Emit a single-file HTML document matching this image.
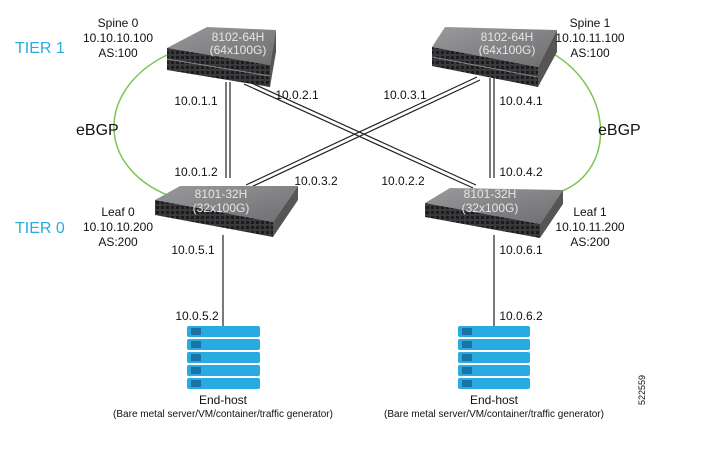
<!DOCTYPE html>
<html><head><meta charset="utf-8"><style>
html,body{margin:0;padding:0;background:#fff;}
svg text{font-family:"Liberation Sans",sans-serif;}
</style></head><body>
<svg width="720" height="462" viewBox="0 0 720 462" xmlns="http://www.w3.org/2000/svg">
<defs>
<linearGradient id="top" x1="0" y1="0" x2="1" y2="1"><stop offset="0" stop-color="#9a9a9c"/><stop offset="1" stop-color="#6e6e70"/></linearGradient>
<pattern id="ports" width="5" height="5" patternUnits="userSpaceOnUse"><rect width="5" height="5" fill="#3a3a3c"/><rect x="1" y="1" width="3" height="3" fill="#1c1c1e"/></pattern>
</defs>
<!-- green arcs -->
<path d="M167,55 C95,90 95,170 175,198" fill="none" stroke="#7cc552" stroke-width="1.5"/>
<path d="M552,53 C615,90 615,170 562,191" fill="none" stroke="#7cc552" stroke-width="1.5"/>
<!-- links -->
<g stroke="#222" stroke-width="1.2" fill="none">
<line x1="226" y1="82" x2="226" y2="178"/><line x1="230" y1="82" x2="230" y2="178"/>
<line x1="490" y1="78" x2="490" y2="178"/><line x1="494" y1="78" x2="494" y2="178"/>
<line x1="244" y1="84" x2="473" y2="188"/><line x1="247" y1="81" x2="476" y2="185"/>
<line x1="477" y1="77" x2="246" y2="185"/><line x1="480" y1="80" x2="249" y2="188"/>
<line x1="223" y1="235" x2="223" y2="326"/>
<line x1="494" y1="235" x2="494" y2="326"/>
</g>
<!-- spine0 -->
<polygon points="167,48 207,27 276,30 270,65" fill="url(#top)"/>
<polygon points="167,48 270,65 270,87 167,70" fill="url(#ports)"/>
<polygon points="270,65 276,30 276,52 270,87" fill="#555"/>
<line x1="167" y1="59" x2="270" y2="76" stroke="#888" stroke-width="1"/>
<text x="238" y="41" font-size="12" fill="#e6e6e6" text-anchor="middle">8102-64H</text>
<text x="238" y="54" font-size="12" fill="#e6e6e6" text-anchor="middle">(64x100G)</text>
<!-- spine1 -->
<polygon points="432,47 445,27 557,30 538,67" fill="url(#top)"/>
<polygon points="432,47 538,67 538,87 432,66" fill="url(#ports)"/>
<polygon points="538,67 557,30 557,52 538,87" fill="#555"/>
<line x1="432" y1="57" x2="538" y2="77" stroke="#888" stroke-width="1"/>
<text x="507" y="41" font-size="12" fill="#e6e6e6" text-anchor="middle">8102-64H</text>
<text x="507" y="54" font-size="12" fill="#e6e6e6" text-anchor="middle">(64x100G)</text>
<!-- leaf0 -->
<polygon points="155,200 180,186 298,186 273,222" fill="url(#top)"/>
<polygon points="155,200 273,222 273,237 155,215" fill="url(#ports)"/>
<polygon points="273,222 298,186 298,200 273,237" fill="#555"/>
<text x="221" y="198" font-size="12" fill="#e6e6e6" text-anchor="middle">8101-32H</text>
<text x="221" y="212" font-size="12" fill="#e6e6e6" text-anchor="middle">(32x100G)</text>
<!-- leaf1 -->
<polygon points="425,203 450,188 563,190 540,224" fill="url(#top)"/>
<polygon points="425,203 540,224 540,238 425,217" fill="url(#ports)"/>
<polygon points="540,224 563,190 563,204 540,238" fill="#555"/>
<text x="490" y="198" font-size="12" fill="#e6e6e6" text-anchor="middle">8101-32H</text>
<text x="490" y="212" font-size="12" fill="#e6e6e6" text-anchor="middle">(32x100G)</text>
<!-- servers -->
<g fill="#29aae1">
<rect x="187" y="326" width="73" height="11" rx="2"/><rect x="187" y="339" width="73" height="11" rx="2"/><rect x="187" y="352" width="73" height="11" rx="2"/><rect x="187" y="365" width="73" height="11" rx="2"/><rect x="187" y="378" width="73" height="11" rx="2"/>
<rect x="458" y="326" width="72" height="11" rx="2"/><rect x="458" y="339" width="72" height="11" rx="2"/><rect x="458" y="352" width="72" height="11" rx="2"/><rect x="458" y="365" width="72" height="11" rx="2"/><rect x="458" y="378" width="72" height="11" rx="2"/>
</g>
<g stroke="#0d3b66" stroke-width="1">
<path d="M192,328v7M194,328v7M196,328v7M198,328v7M200,328v7 M192,341v7M194,341v7M196,341v7M198,341v7M200,341v7 M192,354v7M194,354v7M196,354v7M198,354v7M200,354v7 M192,367v7M194,367v7M196,367v7M198,367v7M200,367v7 M192,380v7M194,380v7M196,380v7M198,380v7M200,380v7"/>
<path d="M463,328v7M465,328v7M467,328v7M469,328v7M471,328v7 M463,341v7M465,341v7M467,341v7M469,341v7M471,341v7 M463,354v7M465,354v7M467,354v7M469,354v7M471,354v7 M463,367v7M465,367v7M467,367v7M469,367v7M471,367v7 M463,380v7M465,380v7M467,380v7M469,380v7M471,380v7"/>
</g>
<!-- labels -->
<g font-size="12" fill="#111">
<text x="118" y="27" text-anchor="middle">Spine 0</text>
<text x="118" y="42" text-anchor="middle">10.10.10.100</text>
<text x="118" y="57" text-anchor="middle">AS:100</text>
<text x="118" y="216" text-anchor="middle">Leaf 0</text>
<text x="118" y="231" text-anchor="middle">10.10.10.200</text>
<text x="118" y="246" text-anchor="middle">AS:200</text>
<text x="590" y="27" text-anchor="middle">Spine 1</text>
<text x="590" y="42" text-anchor="middle">10.10.11.100</text>
<text x="590" y="57" text-anchor="middle">AS:100</text>
<text x="590" y="216" text-anchor="middle">Leaf 1</text>
<text x="590" y="231" text-anchor="middle">10.10.11.200</text>
<text x="590" y="246" text-anchor="middle">AS:200</text>
<text x="196" y="105" text-anchor="middle">10.0.1.1</text>
<text x="297" y="99" text-anchor="middle">10.0.2.1</text>
<text x="405" y="99" text-anchor="middle">10.0.3.1</text>
<text x="521" y="105" text-anchor="middle">10.0.4.1</text>
<text x="196" y="176" text-anchor="middle">10.0.1.2</text>
<text x="316" y="185" text-anchor="middle">10.0.3.2</text>
<text x="403" y="185" text-anchor="middle">10.0.2.2</text>
<text x="521" y="176" text-anchor="middle">10.0.4.2</text>
<text x="193" y="254" text-anchor="middle">10.0.5.1</text>
<text x="521" y="254" text-anchor="middle">10.0.6.1</text>
<text x="197" y="320" text-anchor="middle">10.0.5.2</text>
<text x="521" y="320" text-anchor="middle">10.0.6.2</text>
<text x="223" y="404" text-anchor="middle">End-host</text>
<text x="494" y="404" text-anchor="middle">End-host</text>
</g>
<text x="223" y="417" font-size="10" text-anchor="middle" fill="#111">(Bare metal server/VM/container/traffic generator)</text>
<text x="494" y="417" font-size="10" text-anchor="middle" fill="#111">(Bare metal server/VM/container/traffic generator)</text>
<text x="76" y="135" font-size="16" fill="#111">eBGP</text>
<text x="598" y="135" font-size="16" fill="#111">eBGP</text>
<text x="15" y="53" font-size="16" fill="#29aae1">TIER 1</text>
<text x="15" y="233" font-size="16" fill="#29aae1">TIER 0</text>
<text x="0" y="0" font-size="9" fill="#111" transform="translate(645,405) rotate(-90)">522559</text>
</svg>
</body></html>
